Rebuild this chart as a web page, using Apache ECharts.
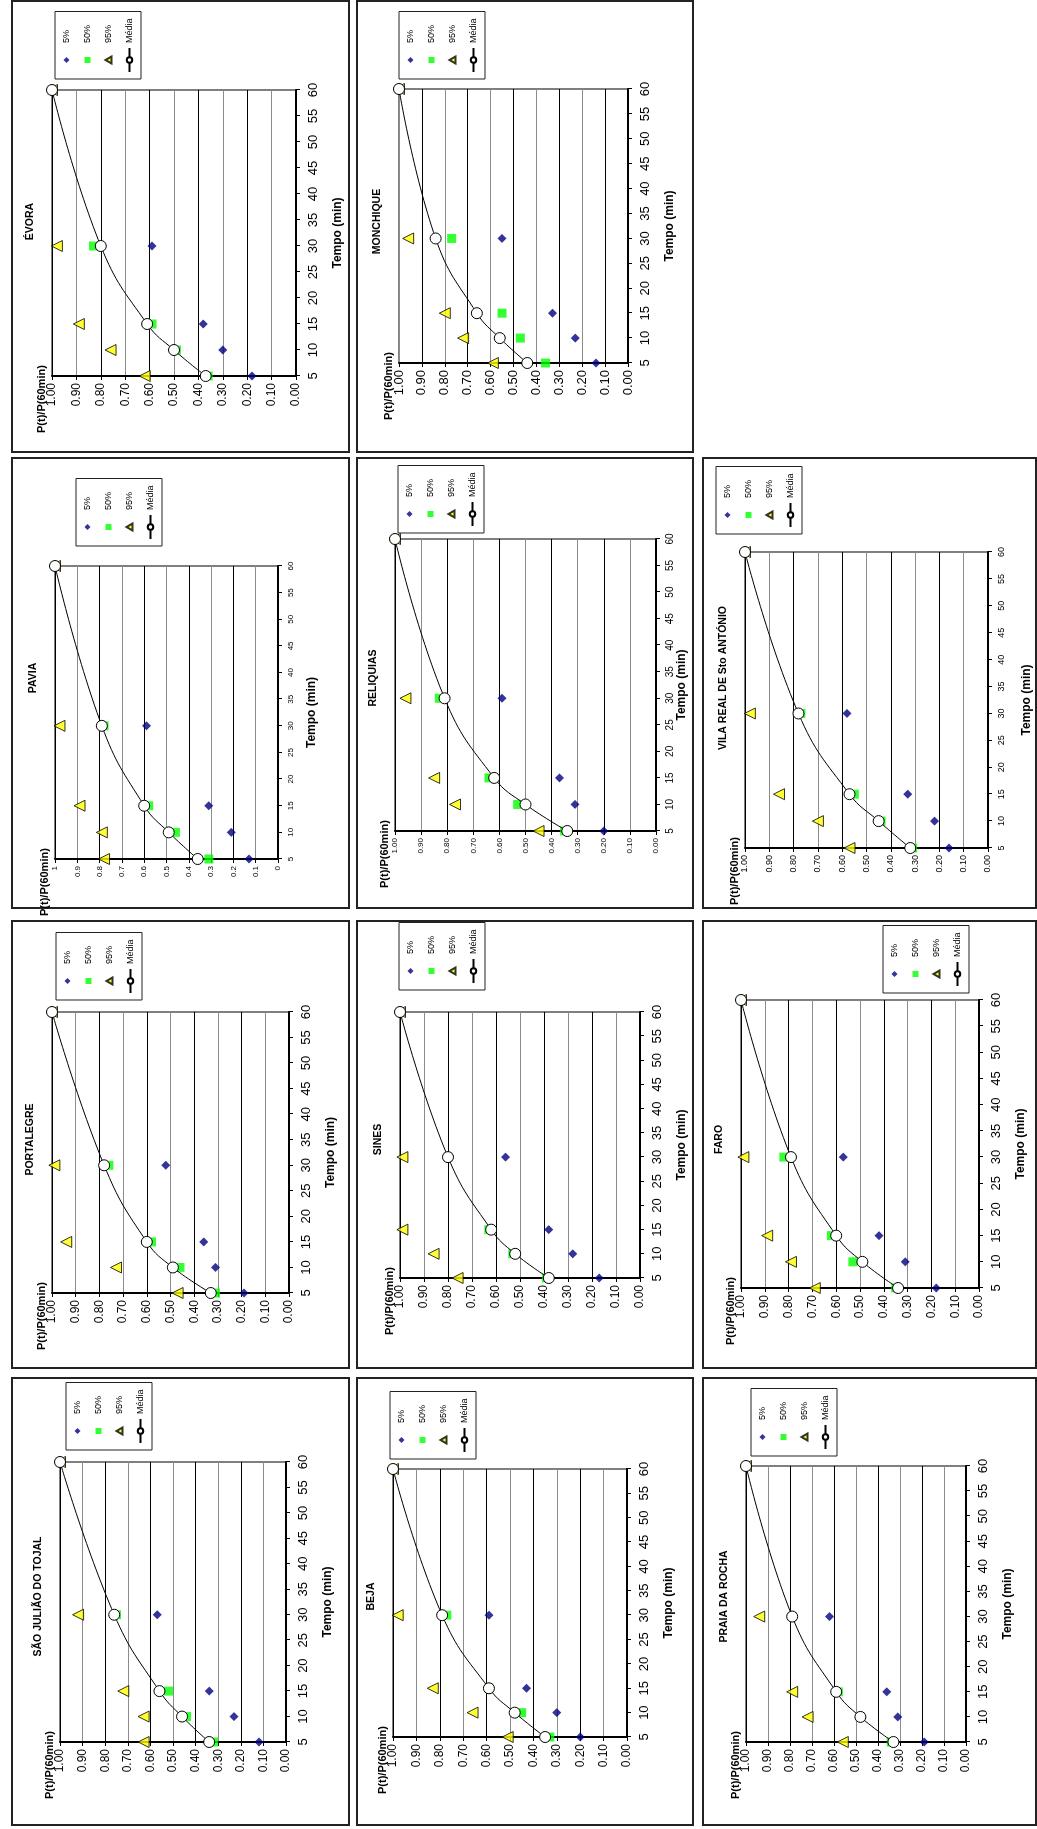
<!DOCTYPE html>
<html>
<head>
<meta charset="utf-8">
<script src="https://cdn.jsdelivr.net/npm/echarts@6/dist/echarts.min.js"></script>
<style>
html,body{margin:0;padding:0;background:#fff;overflow:hidden;}
#wrap{position:relative;width:1037px;height:1829px;overflow:hidden;background:#fff;}
#chart{position:absolute;left:0;top:0;width:1829px;height:1037px;transform-origin:0 0;transform:translateY(1829px) rotate(-90deg);}
</style>
</head>
<body>
<div id="wrap"><div id="chart"></div></div>
<script>
// ---------- data ----------
const times = [5, 10, 15, 30, 60];
const seriesNames = ['5%', '50%', '95%', 'Média'];
const timeTickLabels = ['5','10','15','20','25','30','35','40','45','50','55','60'];
const pTickLabels = ['0.00','0.10','0.20','0.30','0.40','0.50','0.60','0.70','0.80','0.90','1.00'];
const pTickLabelsShort = ['0','0.1','0.2','0.3','0.4','0.5','0.6','0.7','0.8','0.9','1'];

const sjP05  = [0.12, 0.23, 0.34, 0.57, 1.00];
const sjP50  = [0.32, 0.44, 0.52, 0.75, 1.00];
const sjP95  = [0.63, 0.63, 0.72, 0.92, 1.00];
const sjMed  = [0.34, 0.46, 0.56, 0.76, 1.00];

const ptgP05 = [0.19, 0.31, 0.36, 0.52, 1.00];
const ptgP50 = [0.31, 0.46, 0.58, 0.76, 1.00];
const ptgP95 = [0.47, 0.73, 0.94, 0.99, 1.00];
const ptgMed = [0.33, 0.49, 0.60, 0.78, 1.00];

const pavP05 = [0.13, 0.21, 0.31, 0.59, 1.00];
const pavP50 = [0.31, 0.46, 0.58, 0.78, 1.00];
const pavP95 = [0.78, 0.79, 0.89, 0.98, 1.00];
const pavMed = [0.36, 0.49, 0.60, 0.79, 1.00];

const evoP05 = [0.18, 0.30, 0.38, 0.59, 1.00];
const evoP50 = [0.36, 0.49, 0.59, 0.83, 1.00];
const evoP95 = [0.62, 0.76, 0.89, 0.98, 1.00];
const evoMed = [0.37, 0.50, 0.61, 0.80, 1.00];

const bejP05 = [0.20, 0.30, 0.43, 0.59, 1.00];
const bejP50 = [0.33, 0.45, 0.59, 0.77, 1.00];
const bejP95 = [0.51, 0.66, 0.83, 0.98, 1.00];
const bejMed = [0.35, 0.48, 0.59, 0.79, 1.00];

const sinP05 = [0.17, 0.28, 0.38, 0.56, 1.00];
const sinP50 = [0.39, 0.53, 0.63, 0.80, 1.00];
const sinP95 = [0.76, 0.86, 0.99, 0.99, 1.00];
const sinMed = [0.38, 0.52, 0.62, 0.80, 1.00];

const relP05 = [0.20, 0.31, 0.37, 0.59, 1.00];
const relP50 = [0.35, 0.53, 0.64, 0.83, 1.00];
const relP95 = [0.45, 0.77, 0.85, 0.96, 1.00];
const relMed = [0.34, 0.50, 0.62, 0.81, 1.00];

const monP05 = [0.14, 0.23, 0.33, 0.55, 1.00];
const monP50 = [0.36, 0.47, 0.55, 0.77, 1.00];
const monP95 = [0.59, 0.72, 0.80, 0.96, 1.00];
const monMed = [0.44, 0.56, 0.66, 0.84, 1.00];

const praP05 = [0.19, 0.31, 0.36, 0.62, 1.00];
const praP50 = [0.34, 0.48, 0.58, 0.79, 1.00];
const praP95 = [0.56, 0.72, 0.79, 0.94, 1.00];
const praMed = [0.33, 0.48, 0.59, 0.79, 1.00];

const farP05 = [0.18, 0.31, 0.42, 0.57, 1.00];
const farP50 = [0.35, 0.53, 0.62, 0.82, 1.00];
const farP95 = [0.69, 0.79, 0.89, 0.99, 1.00];
const farMed = [0.34, 0.49, 0.60, 0.79, 1.00];

const vrsP05 = [0.16, 0.22, 0.33, 0.58, 1.00];
const vrsP50 = [0.31, 0.44, 0.55, 0.77, 1.00];
const vrsP95 = [0.57, 0.70, 0.86, 0.98, 1.00];
const vrsMed = [0.32, 0.45, 0.57, 0.78, 1.00];

// ---------- layout (normal, un-rotated view 1829 x 1037) ----------
const FONT = '"Liberation Sans", Arial, Helvetica, sans-serif';
const panels = [
  {title:'SÃO JULIÃO DO TOJAL', d:[sjP05,sjP50,sjP95,sjMed],   frame:[4,12,447,337],   grid:[87,60,280,226],  leg:[379,66],  pFs:12, tFs:13, phase:0},
  {title:'PORTALEGRE',          d:[ptgP05,ptgP50,ptgP95,ptgMed], frame:[461,12,447,337], grid:[536,52,281,237], leg:[829,56],  pFs:12, tFs:13, phase:0},
  {title:'PAVIA',               d:[pavP05,pavP50,pavP95,pavMed], frame:[921,12,450,337], grid:[970,55,293,223], leg:[1283,76], pFs:8,  tFs:8,  phase:0, shortLabels:true, nameGap:28},
  {title:'ÉVORA',               d:[evoP05,evoP50,evoP95,evoMed], frame:[1377,12,451,337],grid:[1453,52,286,244],leg:[1750,55], pFs:12, tFs:13, phase:0},
  {title:'BEJA',                d:[bejP05,bejP50,bejP95,bejMed], frame:[4,357,447,336],  grid:[92,393,268,234], leg:[370,390], pFs:12, tFs:13, phase:0},
  {title:'SINES',               d:[sinP05,sinP50,sinP95,sinMed], frame:[461,357,447,336],grid:[551,400,266,240],leg:[839,399], pFs:12, tFs:13, phase:0},
  {title:'RELIQUIAS',           d:[relP05,relP50,relP95,relMed], frame:[921,357,450,336],grid:[998,395,292,261],leg:[1296,398],pFs:8,  tFs:10, phase:0, nameGap:19},
  {title:'MONCHIQUE',           d:[monP05,monP50,monP95,monMed], frame:[1377,357,451,336],grid:[1466,399,274,229],leg:[1750,399],pFs:13, tFs:13, phase:1},
  {title:'PRAIA DA ROCHA',      d:[praP05,praP50,praP95,praMed], frame:[4,703,447,333],  grid:[87,746,276,220], leg:[373,751], pFs:12, tFs:13, phase:0},
  {title:'FARO',                d:[farP05,farP50,farP95,farMed], frame:[461,703,447,333],grid:[541,741,288,238],leg:[836,883], pFs:12, tFs:13, phase:0},
  {title:'VILA REAL DE Sto ANTÓNIO', d:[vrsP05,vrsP50,vrsP95,vrsMed], frame:[921,703,450,333],grid:[981,745,296,243],leg:[1295,716],pFs:9, tFs:9, phase:0, nameGap:33}
];

const seriesStyles = [
  {type:'scatter', symbol:'diamond',  symbolSize:9,  itemStyle:{color:'#000080'}},
  {type:'scatter', symbol:'rect',     symbolSize:9,  itemStyle:{color:'#00ff00'}},
  {type:'scatter', symbol:'triangle', symbolSize:11, itemStyle:{color:'#ffff00', borderColor:'#000', borderWidth:1}},
  {type:'line', symbol:'circle', symbolSize:11, smooth:0.45, showSymbol:true,
   lineStyle:{color:'#000', width:1}, itemStyle:{color:'#fff', borderColor:'#000', borderWidth:1}}
];

// legend icons: 24x6 box (invisible corner moves keep the aspect), shape centred
const legendIcons = [
  'path://M0,0M24,7M12,0.5L15,3.5L12,6.5L9,3.5Z',
  'path://M0,0M24,7M9,0.5L15,0.5L15,6.5L9,6.5Z',
  'path://M0,0M24,7M12,0.5L15.5,6.5L8.5,6.5Z',
  null
];

const option = {
  animation:false,
  backgroundColor:'#fff',
  textStyle:{fontFamily:FONT, color:'#000'},
  title:[], grid:[], xAxis:[], yAxis:[], legend:[], series:[],
  graphic:{elements:[]}
};

panels.forEach((p, i) => {
  const [gl, gt, gw, gh] = p.grid;
  const [fx, fy, fw, fh] = p.frame;

  option.graphic.elements.push({
    type:'rect', shape:{x:fx, y:fy, width:fw, height:fh}, z:-1,
    style:{fill:'#fff', stroke:'#222', lineWidth:2}
  });

  option.title.push({
    text:p.title, left:fx + fw/2, top:gt - 32, textAlign:'center',
    textStyle:{fontSize:10.5, fontWeight:'bold', color:'#000', fontFamily:FONT}
  });
  option.title.push({
    text:'P(t)/P(60min)', left:gl - 62, top:gt - 21,
    textStyle:{fontSize:11, fontWeight:'bold', color:'#000', fontFamily:FONT}
  });

  option.grid.push({left:gl, top:gt, width:gw, height:gh, show:true,
    borderColor:'#000', borderWidth:1, backgroundColor:'#fff'});

  option.xAxis.push({
    gridIndex:i, type:'value', min:5, max:60, interval:5,
    axisLine:{show:true, onZero:false, lineStyle:{color:'#000', width:2}},
    axisTick:{show:true, length:4, lineStyle:{color:'#000', width:1}},
    axisLabel:{fontSize:p.tFs, color:'#000', margin:p.tFs < 11 ? 9 : 11,
      formatter:(v) => timeTickLabels[Math.round((v - 5) / 5)]},
    splitLine:{show:false},
    name:'Tempo (min)', nameLocation:'middle', nameGap:p.nameGap || 36,
    nameTextStyle:{fontSize:12, fontWeight:'bold', color:'#000', fontFamily:FONT}
  });

  const labs = p.shortLabels ? pTickLabelsShort : pTickLabels;
  option.yAxis.push({
    gridIndex:i, type:'value', min:0, max:1, interval:0.1,
    axisLine:{show:true, onZero:false, lineStyle:{color:'#000', width:2}},
    axisTick:{show:true, length:4, lineStyle:{color:'#000', width:1}},
    axisLabel:{fontSize:p.pFs, color:'#000', margin:7,
      formatter:(v) => labs[Math.round(v * 10)]},
    splitLine:{show:true, lineStyle:{width:1,
      color: p.phase ? ['#8c8c8c', '#000'] : ['#000', '#8c8c8c']}}
  });

  option.legend.push({
    left:p.leg[0], top:p.leg[1], orient:'vertical',
    data:seriesNames.map((n, k) => legendIcons[k] ? {name:n, icon:legendIcons[k]} : {name:n}),
    itemWidth:24, itemHeight:7, itemGap:12, padding:[7,7,7,6],
    borderColor:'#222', borderWidth:1, backgroundColor:'#fff',
    selectedMode:false,
    textStyle:{fontSize:9, color:'#000', fontFamily:FONT}
  });

  p.d.forEach((arr, k) => {
    const s = Object.assign({}, seriesStyles[k], {
      name:seriesNames[k], xAxisIndex:i, yAxisIndex:i, clip:false,
      data:times.map((t, j) => [t, arr[j]])
    });
    option.series.push(s);
  });
});

const chart = echarts.init(document.getElementById('chart'), null, {renderer:'canvas', width:1829, height:1037});
chart.setOption(option);
</script>
</body>
</html>
